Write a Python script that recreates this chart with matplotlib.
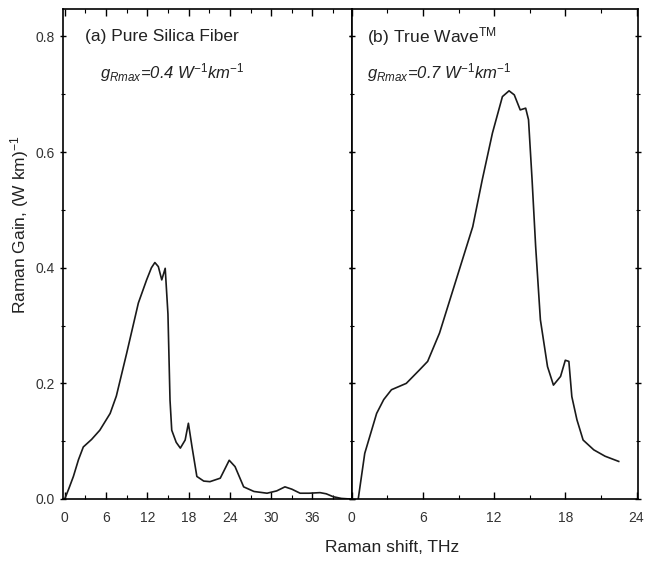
import matplotlib
matplotlib.use("Agg")
import matplotlib.pyplot as plt
from matplotlib.ticker import MultipleLocator

plt.rcParams['font.family'] = ['Liberation Sans', 'DejaVu Sans']
plt.rcParams['mathtext.fontset'] = 'custom'
plt.rcParams['mathtext.rm'] = 'Liberation Sans'
plt.rcParams['mathtext.it'] = 'Liberation Sans:italic'
plt.rcParams['mathtext.bf'] = 'Liberation Sans:bold'

# (a) pure silica fiber
silica_shift = [0, 0.6, 1.26, 2.0, 2.7, 3.9, 5.1, 6.6, 7.5, 9.0, 10.7, 11.9, 12.6, 13.1,
                13.6, 14.1, 14.6, 15.0, 15.3, 15.55, 16.2, 16.8, 17.5, 17.97, 18.5,
                19.2, 20.2, 21.1, 22.6, 23.4, 23.9, 24.75, 26.0, 27.5, 29.4, 30.8,
                32.0, 33.0, 34.2, 35.5, 37.1, 38.0, 39.0, 40.2, 41.5]
silica_gain = [0, 0.018, 0.039, 0.068, 0.090, 0.103, 0.119, 0.148, 0.178, 0.252,
               0.339, 0.379, 0.400, 0.409, 0.402, 0.379, 0.399, 0.32, 0.171, 0.119,
               0.098, 0.088, 0.102, 0.131, 0.090, 0.039, 0.031, 0.030, 0.036, 0.055,
               0.067, 0.056, 0.021, 0.013, 0.010, 0.014, 0.021, 0.017, 0.010, 0.010,
               0.011, 0.009, 0.004, 0.001, 0.0]

# (b) TrueWave fiber
tw_shift = [0.55, 1.1, 2.1, 2.7, 3.35, 4.6, 5.7, 6.4, 7.4, 8.8, 10.2, 11.0, 11.86,
            12.7, 13.26, 13.7, 14.2, 14.66, 14.9, 15.2, 15.5, 15.9, 16.5, 17.0, 17.6,
            18.0, 18.3, 18.55, 18.98, 19.5, 20.4, 21.35, 22.5]
tw_gain = [0.0, 0.079, 0.148, 0.172, 0.189, 0.200, 0.223, 0.238, 0.287, 0.379, 0.471,
           0.552, 0.633, 0.696, 0.706, 0.699, 0.673, 0.676, 0.656, 0.552, 0.437, 0.310,
           0.229, 0.197, 0.212, 0.240, 0.238, 0.177, 0.137, 0.102, 0.085, 0.074, 0.065]

W, H = 645, 561
fig = plt.figure(figsize=(W / 100, H / 100), dpi=100)
ax1 = fig.add_axes([63 / W, 62 / H, 288.7 / W, 489.7 / H])
ax2 = fig.add_axes([351.7 / W, 62 / H, 286 / W, 489.7 / H])

ax1.plot(silica_shift, silica_gain, color='#1a1a1a', lw=1.2)
ax2.plot(tw_shift, tw_gain, color='#1a1a1a', lw=1.2)

ax1.set_xlim(-0.25, 41.7)
ax2.set_xlim(0, 24.1)
for ax in (ax1, ax2):
    ax.set_ylim(0, 0.847)
    ax.xaxis.set_major_locator(MultipleLocator(6))
    ax.xaxis.set_minor_locator(MultipleLocator(3))
    ax.yaxis.set_major_locator(MultipleLocator(0.2))
    ax.yaxis.set_minor_locator(MultipleLocator(0.1))
    ax.tick_params(axis='x', which='both', direction='in', top=True,
                   labelsize=10, labelcolor='#333333', pad=9)
    ax.tick_params(axis='y', which='both', direction='inout', right=True,
                   labelsize=10, labelcolor='#333333')
    ax.tick_params(which='major', length=5, width=1)
    ax.tick_params(which='minor', length=3, width=0.8)
    for s in ax.spines.values():
        s.set_linewidth(1.2)
ax1.set_xticks([0, 6, 12, 18, 24, 30, 36])
ax1.yaxis.set_major_formatter(plt.FuncFormatter(lambda v, p: f'{v:.1f}'))
ax2.tick_params(axis='y', labelleft=False)


def put(x, y, s, **kw):
    # place text by pixel position measured from the top-left corner
    fig.text(x / W, 1 - y / H, s, color='#222222', va='center', **kw)


put(85, 37, '(a) Pure Silica Fiber', fontsize=12.5)
put(100, 73, r'$g_{Rmax}$=0.4 W$^{\mathit{-1}}$km$^{\mathit{-1}}$',
    fontsize=12, style='italic')
put(367, 37, r'(b) True Wave$^{\mathrm{TM}}$', fontsize=12.5)
put(367, 73, r'$g_{Rmax}$=0.7 W$^{\mathit{-1}}$km$^{\mathit{-1}}$',
    fontsize=12, style='italic')

fig.text(392 / W, 14 / H, 'Raman shift, THz', ha='center', va='center',
         fontsize=12.5, color='#222222')
fig.text(20 / W, 1 - 225 / H, r'Raman Gain, (W km)$^{-1}$', rotation=90,
         ha='center', va='center', fontsize=12.5, color='#222222')

fig.savefig('out.png', dpi=100)
